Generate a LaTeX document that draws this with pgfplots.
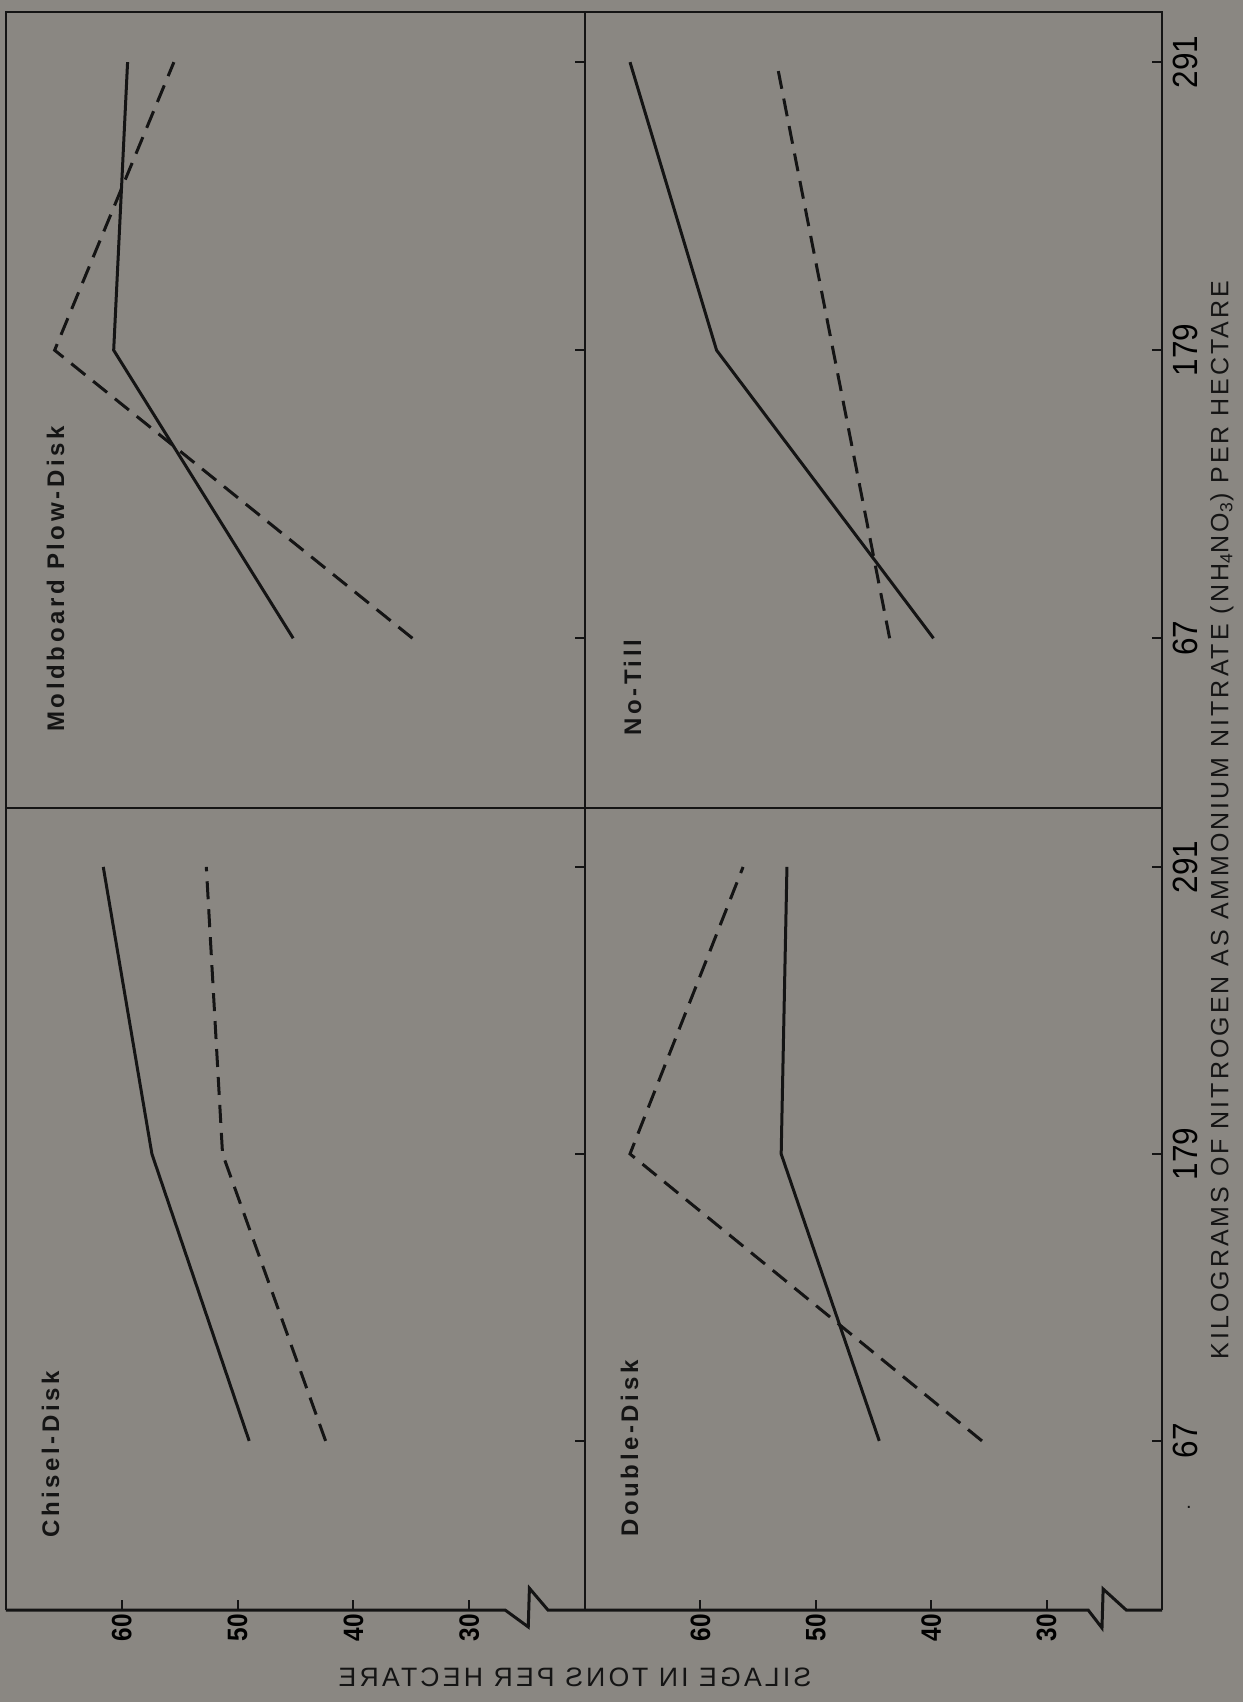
\documentclass[border=0pt]{standalone}
\usepackage{graphicx}
\usepackage{fontspec}
\setmainfont{Liberation Sans}
\newfontfamily\panelfont[LetterSpace=15]{Liberation Sans}
\newfontfamily\silfont[FakeStretch=0.87]{Liberation Sans}
\newfontfamily\labfont[LetterSpace=12]{Liberation Sans}
\newfontfamily\ntickfont[FakeStretch=0.9]{Liberation Sans}
\usepackage{pgfplots}
\pgfplotsset{compat=1.18}
\definecolor{bg}{RGB}{138,135,130}
\definecolor{ink}{RGB}{20,20,20}

\pgfplotsset{
 panel/.style={
  scale only axis, x dir=reverse, xmin=20, xmax=70, ymin=1,
  axis line style={ink, line width=1.4pt},
  tick style={ink, line width=1pt},
  major tick length=5pt, tick align=inside,
  ytick={67,179,291}, ytick pos=right,
  yticklabels={}, xtick=\empty,
  clip=false,
  /pgf/number format/assume math mode=true,
 },
 lower/.style={
  separate axis lines, x axis line style={draw=none},
  xtick={30,40,50,60}, xtick pos=left,
  xticklabel style={font=\silfont\bfseries\fontsize{14}{14}\selectfont, rotate=90, anchor=east, inner sep=0pt},
  xticklabel shift=2pt,
 },
 rightcol/.style={
  yticklabels={67,179,291}, yticklabel pos=right,
  yticklabel style={font=\ntickfont\fontsize{17.5}{17.5}\selectfont, rotate=90, anchor=north, inner sep=0pt},
  yticklabel shift=5.5pt,
 },
 solidl/.style={ink, line width=1.5pt},
 dashl/.style={ink, line width=1.5pt, dash pattern=on 9pt off 5pt},
}

\begin{document}
\begin{tikzpicture}
\path[use as bounding box, fill=bg] (0,0) rectangle (621.5pt,-851pt);

% upper-left: Moldboard Plow-Disk
\begin{axis}[panel, at={(3pt,-6pt)}, anchor=north west, width=289.5pt, height=398pt, ymax=310.5]
\addplot[solidl] coordinates {(45.2,67) (60.7,179) (59.5,291)};
\addplot[dashl] coordinates {(34.9,67) (65.8,179) (55.5,291)};
\end{axis}

% upper-right: No-Till
\begin{axis}[panel, rightcol, at={(292.5pt,-6pt)}, anchor=north west, width=288.5pt, height=398pt, ymax=310.5]
\addplot[solidl] coordinates {(39.8,67) (58.6,179) (66.1,291)};
\addplot[dashl] coordinates {(43.6,67) (48.5,179) (53.4,291)};
\end{axis}

% lower-left: Chisel-Disk
\begin{axis}[panel, lower, at={(3pt,-404pt)}, anchor=north west, width=289.5pt, height=401pt, ymax=314]
\addplot[solidl] coordinates {(49.0,67) (57.4,179) (61.6,291)};
\addplot[dashl] coordinates {(42.4,67) (51.3,179) (52.7,291)};
\draw[ink, line width=1.5pt, line join=miter] (axis cs:70,1) -- (axis cs:26.9,1) -- (axis cs:24.9,-5.6) -- (axis cs:24.8,9.5) -- (axis cs:23.2,1) -- (axis cs:20,1);
\end{axis}

% lower-right: Double-Disk
\begin{axis}[panel, lower, rightcol, at={(292.5pt,-404pt)}, anchor=north west, width=288.5pt, height=401pt, ymax=314]
\addplot[solidl] coordinates {(44.5,67) (53.0,179) (52.5,291)};
\addplot[dashl] coordinates {(35.6,67) (66.1,179) (56.3,291)};
\draw[ink, line width=1.5pt, line join=miter] (axis cs:70,1) -- (axis cs:26.4,1) -- (axis cs:25.2,-6) -- (axis cs:25.1,9.2) -- (axis cs:23.1,1) -- (axis cs:20,1);
\end{axis}

% panel labels
\begin{scope}[every node/.style={rotate=90, anchor=base west, inner sep=0pt, font=\panelfont\bfseries\fontsize{12}{12}\selectfont, text=ink}]
\node at (29.5pt,-769pt) {Chisel-Disk};
\node at (32pt,-366pt) {Moldboard Plow-Disk};
\node at (319pt,-768.5pt) {Double-Disk};
\node at (320.5pt,-368pt) {No-Till};
\end{scope}

% axis titles
\node[text=ink, inner sep=0pt] at (287.5pt,-838.5pt) {\scalebox{-1}[1]{\labfont\fontsize{13.3}{13.3}\selectfont SILAGE IN TONS PER HECTARE}};
\node[rotate=90, text=ink, inner sep=0pt] at (611pt,-410pt) {\labfont\fontsize{12.5}{12.5}\selectfont KILOGRAMS OF NITROGEN AS AMMONIUM NITRATE (NH\textsubscript{4}NO\textsubscript{3}) PER HECTARE};
\node[text=ink, inner sep=0pt] at (594.5pt,-753.5pt) {.};
\end{tikzpicture}
\end{document}
